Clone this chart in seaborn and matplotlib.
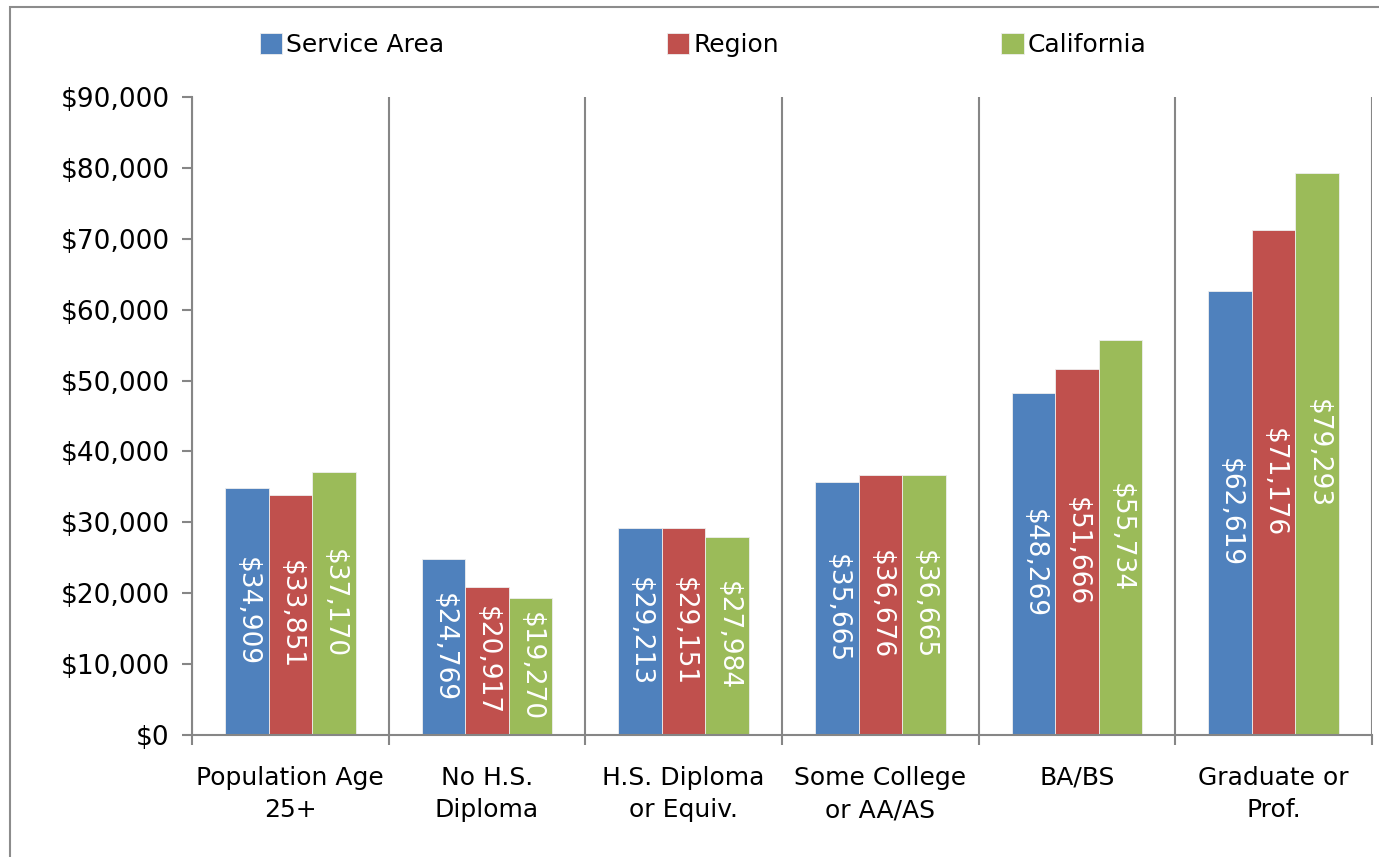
import matplotlib
matplotlib.use("Agg")
import matplotlib.pyplot as plt
import seaborn as sns
import pandas as pd
from matplotlib.patches import Rectangle
from matplotlib.ticker import FuncFormatter, FixedLocator

categories = ["Population Age\n25+", "No H.S.\nDiploma", "H.S. Diploma\nor Equiv.",
              "Some College\nor AA/AS", "BA/BS", "Graduate or\nProf."]
series = ["Service Area", "Region", "California"]
service_area = [34909, 24769, 29213, 35665, 48269, 62619]
region = [33851, 20917, 29151, 36676, 51666, 71176]
california = [37170, 19270, 27984, 36665, 55734, 79293]
colors = ["#4F81BD", "#C0504D", "#9BBB59"]

rows = []
for s, vals in zip(series, [service_area, region, california]):
    for c, v in zip(categories, vals):
        rows.append({"Category": c, "Series": s, "Value": v})
df = pd.DataFrame(rows)

sns.set_style("white")
plt.rcParams["font.family"] = ["DejaVu Sans"]
plt.rcParams["ytick.left"] = True
plt.rcParams["xtick.bottom"] = True
plt.rcParams["text.color"] = "black"
plt.rcParams["xtick.labelcolor"] = "black"
plt.rcParams["ytick.labelcolor"] = "black"

fig = plt.figure(figsize=(13.79, 8.57), dpi=100)
ax = fig.add_axes([192/1379, 1-735/857, (1372-192)/1379, (735-97)/857])

sns.barplot(data=df, x="Category", y="Value", hue="Series", order=categories,
            hue_order=series, palette=colors, width=0.665, ax=ax, saturation=1,
            edgecolor="#eeeeee", linewidth=0.6, errorbar=None, legend=True)

for cont, vals in zip(ax.containers, [service_area, region, california]):
    ax.bar_label(cont, labels=[f"${v:,}" for v in vals], label_type="center",
                 rotation=270, color="white", fontsize=19)

gray = "#868686"
ax.set_ylim(0, 90000)
ax.set_xlim(-0.5, 5.5)
ax.set_yticks(range(0, 90001, 10000))
ax.yaxis.set_major_formatter(FuncFormatter(lambda v, p: f"${int(v):,}"))
ax.xaxis.set_minor_locator(FixedLocator([i - 0.5 for i in range(7)]))
ax.grid(False)
ax.grid(True, axis="x", which="minor", color=gray, linewidth=1.5)
ax.tick_params(axis="x", which="major", length=0, labelsize=18, pad=22, labelcolor="black")
ax.tick_params(axis="x", which="minor", length=7, width=1.5, color=gray, direction="out", bottom=True)
ax.tick_params(axis="y", which="major", length=7, width=1.5, color=gray, direction="out",
               labelsize=19, pad=9, left=True, labelcolor="black")
ax.set_xlabel("")
ax.set_ylabel("")
for side in ["top", "right"]:
    ax.spines[side].set_visible(False)
for side in ["left", "bottom"]:
    ax.spines[side].set_color(gray)
    ax.spines[side].set_linewidth(1.5)
for lbl in ax.get_xticklabels():
    lbl.set_linespacing(1.45)

handles, labels = ax.get_legend_handles_labels()
ax.get_legend().remove()
fig.legend(handles, labels, loc="center", bbox_to_anchor=(703/1379, 1-45/857), ncol=3,
           frameon=False, fontsize=18, handlelength=0.9, handleheight=0.9,
           handletextpad=0.15, columnspacing=8.9, labelcolor="black")

fig.patches.append(Rectangle((10/1379, -0.1), 1.2, 1.1 - 7/857, transform=fig.transFigure,
                             fill=False, edgecolor="#8c8c8c", linewidth=1.5, zorder=0))

fig.savefig("out.png", dpi=100)
